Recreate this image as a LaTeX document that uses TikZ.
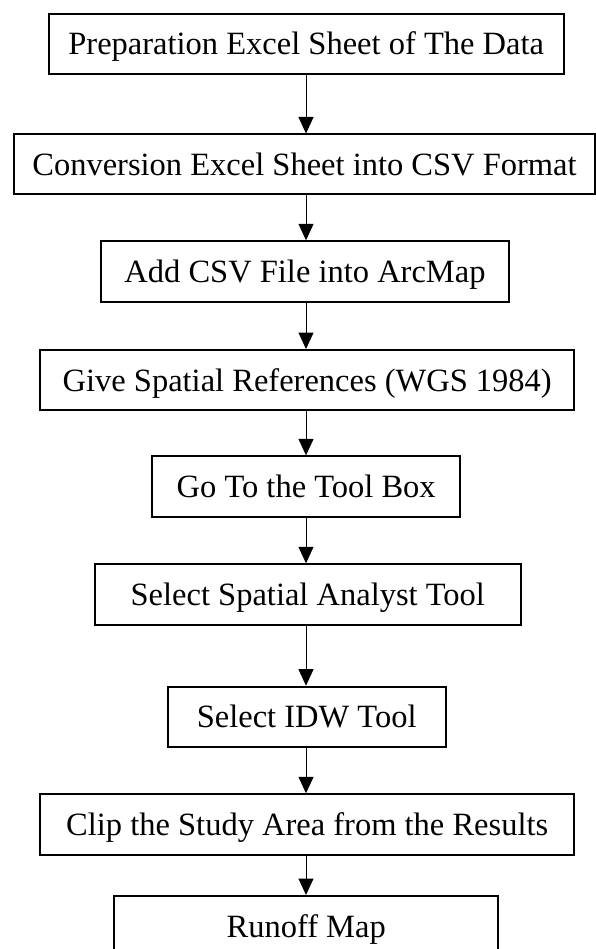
\documentclass[tikz,border=0pt]{standalone}
\usepackage{fontspec}
\setmainfont{Liberation Serif}
\usetikzlibrary{arrows.meta}
\begin{document}
\begin{tikzpicture}[x=1pt,y=-1pt,
  stepbox/.style={draw=black, line width=2pt, rectangle, inner sep=0pt,
    font=\fontsize{32.5}{39}\selectfont, text height=21.6pt, text depth=0pt,
    align=center},
  flow/.style={draw=black, line width=1pt, -{Triangle[width=15pt,length=16.5pt]}}]
  \useasboundingbox (0,0) rectangle (596,949);
  \clip (0,0) rectangle (596,949);
  \coordinate (ax) at (306,0);
  % process steps (centre x, centre y, width, height)
  \node[stepbox, minimum width=515pt, minimum height=60pt] (s1) at (306.2,44) {Preparation Excel Sheet of The Data};
  \node[stepbox, minimum width=581pt, minimum height=60pt] (s2) at (304.5,164.5) {Conversion Excel Sheet into CSV Format};
  \node[stepbox, minimum width=408.6pt, minimum height=60.4pt] (s3) at (305,271.5) {Add CSV File into ArcMap};
  \node[stepbox, minimum width=534pt, minimum height=60.3pt] (s4) at (307.2,380.2) {Give Spatial References (WGS 1984)};
  \node[stepbox, minimum width=307.6pt, minimum height=60.7pt] (s5) at (306.2,486.7) {Go To the Tool Box};
  \node[stepbox, minimum width=426.4pt, minimum height=60.4pt] (s6) at (307.8,594.5) {Select Spatial Analyst Tool};
  \node[stepbox, minimum width=278.2pt, minimum height=60pt] (s7) at (306.7,716.7) {Select IDW Tool};
  \node[stepbox, minimum width=534pt, minimum height=60.4pt] (s8) at (307.2,824.5) {Clip the Study Area from the Results};
  \node[stepbox, minimum width=383.7pt, minimum height=60.4pt] (s9) at (306.2,926.2) {Runoff Map};
  % connectors
  \foreach \a/\b in {s1/s2,s2/s3,s3/s4,s4/s5,s5/s6,s6/s7,s7/s8,s8/s9}
    \draw[flow] (\a.south -| ax) -- (\b.north -| ax);
\end{tikzpicture}
\end{document}
